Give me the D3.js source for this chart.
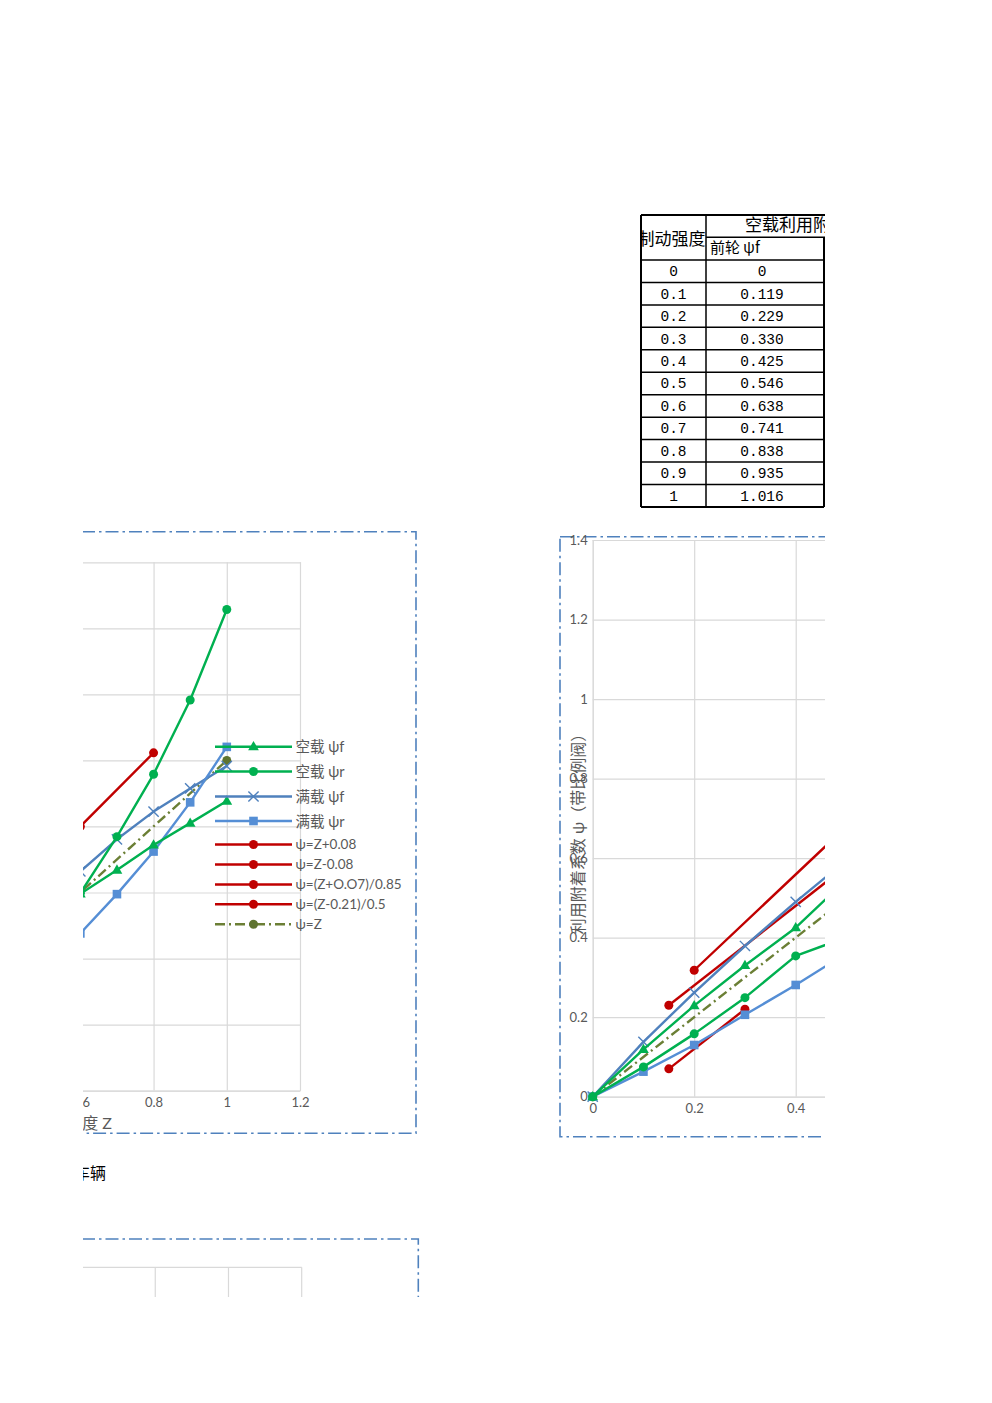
<!DOCTYPE html>
<html><head><meta charset="utf-8">
<script src="https://cdn.jsdelivr.net/npm/d3@7"></script>
<style>body{margin:0;background:#fff}svg{display:block}</style>
</head><body>
<svg id="c" width="992" height="1403"></svg>
<script>
// ---------------- DATA ----------------
// table (制动强度 / 空载 前轮 ψf)
const tableZ      = ["0","0.1","0.2","0.3","0.4","0.5","0.6","0.7","0.8","0.9","1"];
const tableFront  = ["0","0.119","0.229","0.330","0.425","0.546","0.638","0.741","0.838","0.935","1.016"];
const brakeZ      = [0,0.1,0.2,0.3,0.4,0.5,0.6,0.7,0.8,0.9,1];
const emptyFront  = [0,0.119,0.229,0.330,0.425,0.546,0.638,0.741,0.838,0.935,1.016];

// right chart (带比例阀) – other series
const rZ          = [0,0.1,0.2,0.3,0.4,0.5];
const rEmptyRear  = [0,0.075,0.158,0.249,0.354,0.401];
const rFullFront  = [0,0.138,0.262,0.379,0.490,0.595];
const rFullRear   = [0,0.063,0.130,0.206,0.281,0.361];

// left chart – visible part
const lZ          = [0.6,0.7,0.8,0.9,1.0];
const lEmptyFront = [0.596,0.668,0.744,0.810,0.877];
const lEmptyRear  = [0.598,0.769,0.958,1.183,1.457];
const lFullFront  = [0.664,0.761,0.845,0.915,0.983];
const lFullRear   = [0.476,0.595,0.724,0.873,1.041];

// regulation lines
const regPlusZ   = [0.15,0.5],      regPlusPsi  = [0.23,0.58];
const regMinusZ  = [0.15,0.3],      regMinusPsi = [0.07,0.22];
const reg085Z    = [0.2,0.6,0.8],   reg085Psi   = [0.318,0.80,1.023];
const reg05Z     = [0.5,0.55],      reg05Psi    = [0.58,0.68];
const idealZ     = [0,1],           idealPsi    = [0,1];

// axis ticks
const xTicks = [0,0.2,0.4,0.6,0.8,1,1.2];
const xTickLabels = ["0","0.2","0.4","0.6","0.8","1","1.2"];
const yTicksL = [0,0.2,0.4,0.6,0.8,1,1.2,1.4,1.6];
const yTickLabelsL = ["0","0.2","0.4","0.6","0.8","1","1.2","1.4","1.6"];
const yTicksR = [0,0.2,0.4,0.6,0.8,1,1.2,1.4];
const yTickLabelsR = ["0","0.2","0.4","0.6","0.8","1","1.2","1.4"];

const legendNames = ["空载 ψf","空载 ψr","满载 ψf","满载 ψr","ψ=Z+0.08","ψ=Z-0.08","ψ=(Z+O.O7)/0.85","ψ=(Z-0.21)/0.5","ψ=Z"];

// ---------------- STYLE ----------------
const GREEN="#00b050", BLUE1="#4f81bd", BLUE2="#558ed5", RED="#c00000", OLIVE="#6b7f35", OLIVE_DOT="#5f7430";
const GRID="#d9d9d9", TXT="#595959", BORDER="#4f81bd";
const FONT="Lato, 'Noto Sans CJK SC', sans-serif";
const zip=(a,b)=>a.map((v,i)=>[v,b[i]]);

const styles = {
  "空载 ψf":{c:GREEN,sym:"tri"},
  "空载 ψr":{c:GREEN,sym:"circle"},
  "满载 ψf":{c:BLUE1,sym:"x"},
  "满载 ψr":{c:BLUE2,sym:"square"},
  "ψ=Z+0.08":{c:RED,sym:"circle"},
  "ψ=Z-0.08":{c:RED,sym:"circle"},
  "ψ=(Z+O.O7)/0.85":{c:RED,sym:"circle"},
  "ψ=(Z-0.21)/0.5":{c:RED,sym:"circle"},
  "ψ=Z":{c:OLIVE,sym:"circle",dash:"10 4 2 4",mc:OLIVE_DOT}
};

const svg=d3.select("#c");
const defs=svg.append("defs");
defs.append("clipPath").attr("id","page").append("rect").attr("x",83).attr("y",0).attr("width",742).attr("height",1297);
const root=svg.append("g").attr("clip-path","url(#page)");

function marker(g,sym,x,y,color){
  if(sym==="circle") g.append("circle").attr("cx",x).attr("cy",y).attr("r",4.5).attr("fill",color);
  else if(sym==="square") g.append("rect").attr("x",x-4.3).attr("y",y-4.3).attr("width",8.6).attr("height",8.6).attr("fill",color);
  else if(sym==="tri") g.append("path").attr("d",d3.symbol(d3.symbolTriangle,50)()).attr("transform",`translate(${x},${y+0.5})`).attr("fill",color);
  else if(sym==="x") g.append("path").attr("d",d3.symbol(d3.symbolX,70)()).attr("transform",`translate(${x},${y})`).attr("fill","none").attr("stroke",color).attr("stroke-width",1.4);
}

function drawChart(o){
  const g=root.append("g");
  const x=d3.scaleLinear().domain([0,1.2]).range(o.xr);
  const y=d3.scaleLinear().domain(o.yd).range(o.yr);
  const top=y(o.yd[1]), bot=y(0);
  const gx=g.append("g").attr("transform",`translate(0,${bot})`)
    .call(d3.axisBottom(x).tickValues(xTicks).tickFormat((d,i)=>xTickLabels[i]).tickSize(-(bot-top)).tickPadding(7.5));
  gx.select(".domain").attr("stroke",GRID);
  gx.selectAll("line").attr("stroke",GRID).attr("stroke-width",1.2);
  gx.selectAll("text").attr("fill",TXT).attr("font-size",13).attr("font-family",FONT);
  const gy=g.append("g").attr("transform",`translate(${x(0)},0)`)
    .call(d3.axisLeft(y).tickValues(o.yt).tickFormat((d,i)=>o.ytl[i]).tickSize(-(x(1.2)-x(0))).tickPadding(5));
  gy.select(".domain").remove();
  gy.selectAll("line").attr("stroke",GRID).attr("stroke-width",1.2);
  gy.selectAll("text").attr("fill",TXT).attr("font-size",13).attr("font-family",FONT);
  const line=d3.line().x(d=>x(d[0])).y(d=>y(d[1]));
  o.series.forEach(s=>{
    const st=styles[s.name];
    g.append("path").datum(s.data).attr("d",line).attr("fill","none").attr("stroke",st.c)
      .attr("stroke-width",2.4).attr("stroke-linejoin","round").attr("stroke-dasharray",st.dash||null);
    s.data.forEach(d=>marker(g,st.sym,x(d[0]),y(d[1]),st.mc||st.c));
  });
  return g;
}

// ---------------- TABLE ----------------
(function(){
  const g=root.append("g");
  const cx0=641, cx1=706, cx2=824;
  const rowTop=260, rh=22.45;
  const tg=g.append("g").attr("stroke","#000").attr("stroke-width",1.5);
  const rows=tableZ.length;
  const bottom=rowTop+rows*rh;
  tg.append("line").attr("x1",cx0).attr("x2",840).attr("y1",215).attr("y2",215).attr("stroke-width",2);
  tg.append("line").attr("x1",cx1).attr("x2",840).attr("y1",237.3).attr("y2",237.3);
  for(let i=0;i<=rows;i++) tg.append("line").attr("x1",cx0).attr("x2",cx2).attr("y1",rowTop+i*rh).attr("y2",rowTop+i*rh).attr("stroke-width",i===rows?2:1.5);
  tg.append("line").attr("x1",cx0).attr("x2",cx0).attr("y1",215).attr("y2",bottom).attr("stroke-width",2);
  tg.append("line").attr("x1",cx1).attr("x2",cx1).attr("y1",215).attr("y2",bottom);
  tg.append("line").attr("x1",cx2).attr("x2",cx2).attr("y1",237.3).attr("y2",bottom).attr("stroke-width",2);
  defs.append("clipPath").attr("id","cellA").append("rect").attr("x",cx0+1).attr("y",215).attr("width",cx1-cx0-1).attr("height",45);
  g.append("text").attr("clip-path","url(#cellA)").attr("x",705.5).attr("y",245).attr("text-anchor","end")
    .attr("font-size",17).attr("font-family","'Noto Sans CJK SC'").attr("fill","#000").text("制动强度");
  g.append("text").attr("x",745).attr("y",231).attr("font-size",17).attr("font-family","'Noto Sans CJK SC'").attr("fill","#000").text("空载利用附着系数");
  g.append("text").attr("x",710).attr("y",253).attr("font-size",15).attr("font-family","'Noto Sans CJK SC'").attr("fill","#000").text("前轮 ψf");
  tableZ.forEach((t,i)=>{
    const yy=rowTop+i*rh+rh/2+5;
    g.append("text").attr("x",(cx0+cx1)/2).attr("y",yy).attr("text-anchor","middle").attr("font-size",14.5)
      .attr("font-family","'Liberation Mono', monospace").attr("fill","#000").text(t);
    g.append("text").attr("x",762).attr("y",yy).attr("text-anchor","middle").attr("font-size",14.5)
      .attr("font-family","'Liberation Mono', monospace").attr("fill","#000").text(tableFront[i]);
  });
})();

// ---------------- LEFT CHART ----------------
const dashBorder="13 4 2.5 4";
root.append("rect").attr("x",-200).attr("y",531.7).attr("width",616).attr("height",601.6)
  .attr("fill","none").attr("stroke",BORDER).attr("stroke-width",1.6).attr("stroke-dasharray",dashBorder);

const lSeries=[
  {name:"ψ=Z+0.08",data:zip(regPlusZ,regPlusPsi)},
  {name:"ψ=Z-0.08",data:zip(regMinusZ,regMinusPsi)},
  {name:"ψ=(Z+O.O7)/0.85",data:zip(reg085Z,reg085Psi)},
  {name:"ψ=(Z-0.21)/0.5",data:zip(reg05Z,reg05Psi)},
  {name:"ψ=Z",data:zip(idealZ,idealPsi)},
  {name:"满载 ψf",data:zip(lZ,lFullFront)},
  {name:"满载 ψr",data:zip(lZ,lFullRear)},
  {name:"空载 ψf",data:zip(lZ,lEmptyFront)},
  {name:"空载 ψr",data:zip(lZ,lEmptyRear)}
];
drawChart({xr:[-139.3,300],yd:[0,1.6],yr:[1090.6,562.3],yt:yTicksL,ytl:yTickLabelsL,series:lSeries});

root.append("text").attr("x",112).attr("y",1129).attr("text-anchor","end").attr("font-size",16)
  .attr("font-family",FONT).attr("fill",TXT).text("制动强度 Z");

// legend
(function(){
  const g=root.append("g");
  const ly=[746.7,771.5,796.5,821,844.5,864.5,884.5,904.3,924.3];
  legendNames.forEach((n,i)=>{
    const st=styles[n];
    g.append("line").attr("x1",215).attr("x2",292).attr("y1",ly[i]).attr("y2",ly[i]).attr("stroke",st.c)
      .attr("stroke-width",2.4).attr("stroke-dasharray",st.dash||null);
    marker(g,st.sym,253.5,ly[i],st.mc||st.c);
    const cjk=i<4;
    g.append("text").attr("x",295.5).attr("y",ly[i]+(cjk?5.5:4.8)).attr("font-size",cjk?14.5:13.5)
      .attr("font-family",FONT).attr("fill",TXT).text(n);
  });
})();

root.append("text").attr("x",106).attr("y",1179).attr("text-anchor","end").attr("font-size",16)
  .attr("font-family","'Noto Sans CJK SC'").attr("fill","#000").text("车辆");

// ---------------- RIGHT CHART ----------------
root.append("rect").attr("x",560).attr("y",536.7).attr("width",700).attr("height",600)
  .attr("fill","none").attr("stroke",BORDER).attr("stroke-width",1.6).attr("stroke-dasharray",dashBorder);
const rSeries=[
  {name:"ψ=Z+0.08",data:zip(regPlusZ,regPlusPsi)},
  {name:"ψ=Z-0.08",data:zip(regMinusZ,regMinusPsi)},
  {name:"ψ=(Z+O.O7)/0.85",data:zip(reg085Z,reg085Psi)},
  {name:"ψ=(Z-0.21)/0.5",data:zip(reg05Z,reg05Psi)},
  {name:"ψ=Z",data:zip(idealZ,idealPsi)},
  {name:"满载 ψf",data:zip(rZ,rFullFront)},
  {name:"满载 ψr",data:zip(rZ,rFullRear)},
  {name:"空载 ψf",data:zip(brakeZ,emptyFront)},
  {name:"空载 ψr",data:zip(rZ,rEmptyRear)}
];
drawChart({xr:[592.7,592.7+1.2*507.5],yd:[0,1.4],yr:[1096.7,540],yt:yTicksR,ytl:yTickLabelsR,series:rSeries});
root.append("text").attr("transform","translate(584,830) rotate(-90)").attr("text-anchor","middle")
  .attr("font-size",16).attr("font-family",FONT).attr("fill",TXT).text("利用附着系数 ψ（带比例阀）");

// ---------------- BOTTOM CHART (top edge) ----------------
(function(){
  const g=root.append("g");
  g.append("rect").attr("x",-200).attr("y",1239).attr("width",618.3).attr("height",600)
    .attr("fill","none").attr("stroke",BORDER).attr("stroke-width",1.6).attr("stroke-dasharray",dashBorder);
  const bx=d3.scaleLinear().domain([0,1.2]).range([-137.6,301.7]);
  g.append("line").attr("x1",bx(0)).attr("x2",bx(1.2)).attr("y1",1267.3).attr("y2",1267.3).attr("stroke",GRID).attr("stroke-width",1.2);
  xTicks.forEach(t=>g.append("line").attr("x1",bx(t)).attr("x2",bx(t)).attr("y1",1267.3).attr("y2",1400).attr("stroke",GRID).attr("stroke-width",1.2));
})();
</script>
</body></html>
